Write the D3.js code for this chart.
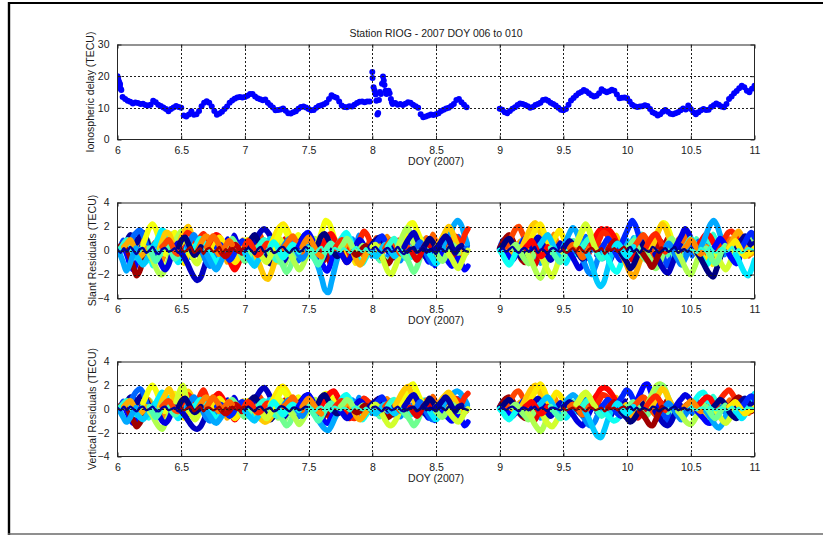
<!DOCTYPE html>
<html>
<head>
<meta charset="utf-8">
<script src="https://cdn.jsdelivr.net/npm/d3@7"></script>
<style>
  body { margin: 0; background: #fff; }
  svg { display: block; }
  text { font-family: "Liberation Sans", Arial, Helvetica, sans-serif; fill: #1a1a1a; }
</style>
</head>
<body>
<svg id="fig" width="823" height="535"></svg>
<script>
// ---------------- data ----------------
const chartTitle = "Station RIOG - 2007 DOY 006 to 010";
const xLabel = "DOY (2007)";
const xTicks = [6, 6.5, 7, 7.5, 8, 8.5, 9, 9.5, 10, 10.5, 11];
const ionoTicks = [0, 10, 20, 30];
const residTicks = [-4, -2, 0, 2, 4];

// Ionospheric delay (TECU), sampled every 0.02 DOY
const ionoStep = 0.02;
const ionoStartA = 6.00;
const ionoValuesA = [
  20.0,17.5,13.4,12.8,12.2,11.9,11.4,11.7,11.5,11.2,11.3,10.9,10.7,11.0,12.2,11.8,11.0,10.6,10.1,9.6,
  8.9,9.6,10.1,10.6,10.3,10.0,7.6,7.3,7.9,8.9,7.8,8.0,9.0,10.5,11.6,12.1,11.6,10.4,9.0,7.8,
  8.2,8.8,9.6,10.4,11.6,12.3,12.9,13.3,13.4,13.3,13.4,13.8,14.4,14.4,13.6,13.0,12.7,12.4,12.6,11.6,
  10.8,10.1,9.2,9.3,9.5,9.8,9.1,8.3,8.2,8.6,8.9,9.7,10.3,10.4,10.1,9.6,9.2,9.3,10.0,10.6,
  10.8,11.1,11.6,12.8,14.0,13.5,13.2,12.0,10.7,10.3,10.2,10.5,10.4,11.0,11.5,11.9,12.0,11.8,12.0,12.0
];
const ionoStartB = 8.16;
const ionoValuesB = [
  11.2,11.5,11.0,11.2,10.9,11.3,11.8,11.6,11.0,10.5,10.0,8.0,7.0,7.3,7.6,7.9,7.7,8.0,8.3,9.0,
  9.4,9.8,10.0,10.6,11.2,12.5,12.8,11.8,11.0,10.2
];
const ionoStartC = 9.00;
const ionoValuesC = [
  9.7,9.4,8.6,8.3,9.0,9.7,10.2,10.9,11.4,11.2,10.9,10.5,10.0,10.3,10.9,11.2,11.6,12.5,12.6,12.2,
  11.6,11.2,10.7,10.0,9.4,9.2,9.6,11.0,12.3,13.1,13.9,14.6,15.0,15.6,15.2,14.6,14.0,13.6,13.8,14.6,
  15.9,15.3,14.9,15.2,15.7,15.4,14.2,13.0,13.2,13.3,13.0,12.0,11.0,10.5,10.3,10.4,10.5,10.8,10.6,9.6,
  8.6,8.2,7.6,8.0,8.8,9.3,8.8,8.1,8.0,8.3,8.6,9.2,9.8,9.5,10.7,9.6,8.6,8.0,8.6,9.2,
  9.6,9.3,9.4,10.3,10.8,11.4,11.0,10.4,10.2,11.2,12.8,13.6,14.6,15.3,16.2,17.0,16.5,15.4,14.9,16.0,17.0
];
// Scattered epochs at the start of the series and around DOY 8.0-8.15
const ionoScatterDoy = [6.005,6.012,6.018,6.025,6.03,
  8.000,8.002,8.010,8.018,8.026,8.032,8.040,8.046,8.052,8.060,8.068,8.076,8.084,8.090,8.096,8.104,8.112,8.120,8.128,8.136,8.146,8.154];
const ionoScatterTec = [19.2,18.3,17.0,16.0,15.6,
  21.3,19.4,16.5,15.5,14.2,12.2,7.9,8.4,12.5,15.0,14.4,17.6,19.9,18.6,17.2,15.4,14.4,14.8,15.4,14.6,12.8,11.8];

// Residual arcs per satellite: [PRN, start DOY, residuals (TECU) every 0.025 DOY]
const residStep = 0.025;
const slantArcs = [
  [5,6.00,[0,0.3,0.2,-0.4,-1.2,-1.6,-1.0,-0.2,0.5,0.3]],
  [2,6.05,[0.2,0.8,1.3,1.1,0.6,1.2,1.5,1.0,0.3,-0.2,-0.6]],
  [8,6.10,[0.5,1.2,1.5,1.7,1.3,0.6,-0.3,-0.8]],
  [31,6.00,[0,0.4,0.5,0.1,-0.6,-1.4,-2.1,-1.7,-0.8,0]],
  [14,6.00,[0,0.2,0.6,0.9,0.4,-0.3,-0.6,-0.2,0.3,0.1]],
  [23,6.05,[0.3,0.6,0.9,0.4,-0.2,-0.5,-0.3,0.2]],
  [11,6.15,[-0.5,-0.9,-1.2,-0.8,-0.3,0.3,0.6,0.2]],
  [10,6.02,[-0.3,-1.0,-1.7,-1.2,-0.4,0.2]],
  [20,6.20,[0.5,1.2,1.9,2.2,1.8,1.0,0.2,-0.3,0.4,1.2,1.5,0.8]],
  [18,6.25,[-0.3,-0.8,-1.4,-1.9,-2.0,-1.5,-0.8,0.0,0.7,1.2,1.6,1.3]],
  [12,6.30,[0.6,1.2,1.7,1.5,0.8,0.2,-0.4,-1.0,-0.6,0.1]],
  [22,6.33,[0.2,0.9,1.5,1.4,0.7,0.2,0.5,1.2,1.7,2.0,1.4,0.5]],
  [4,6.30,[-0.3,-0.7,-1.3,-1.6,-1.2,-0.4,0.2,0.6,0.3]],
  [15,6.25,[0.2,-0.4,-0.9,-0.5,0.2,0.6,0.3,-0.2,-0.7,-0.4]],
  [26,6.35,[0.3,0.6,0.9,0.5,-0.1,-0.3,0.4,0.9,0.6]],
  [3,6.50,[-0.2,-0.6,-1.1,-1.7,-2.2,-2.5,-2.3,-1.6,-0.7,0.1]],
  [27,6.50,[0.5,1.1,1.5,1.3,0.8,0.6,1.1,1.4,0.9,0.2]],
  [19,6.50,[0.6,1.0,0.6,-0.2,-0.8,-1.1,-0.6,0.1,0.5]],
  [9,6.55,[0.3,0.9,1.3,0.8,0.2,-0.4,-1.0,-1.3,-0.9,-0.3,0.2]],
  [13,6.60,[0.2,0.6,1.0,0.7,0.3,-0.2,-0.6,-1.0,-0.7]],
  [24,6.62,[-0.2,0.4,0.9,1.2,1.0,0.5,0.1,-0.3]],
  [1,6.48,[0.3,0.9,1.1,0.6,0.0,-0.4,-0.1,0.3]],
  [28,6.72,[0.4,0.9,1.3,1.2,0.7,0.2,-0.5,-1.2,-1.6,-1.2,-0.4]],
  [10,6.70,[-0.3,-0.8,-1.3,-1.6,-1.2,-0.6,0.1,0.6,0.9,0.5]],
  [21,6.75,[0.2,0.7,1.1,0.8,0.3,-0.2,-0.7,-1.0,-0.6,0.0,0.5,0.9]],
  [6,6.78,[0.2,0.5,0.2,-0.4,-0.8,-0.5,0.1,0.5,0.8,0.4]],
  [16,6.85,[0.3,0.7,1.0,0.6,0.1,-0.5,-0.9,-0.6,0.0]],
  [30,6.80,[0.1,-0.3,-0.5,-0.2,0.3,0.5,0.2,-0.2]],
  [25,6.70,[0.3,0.8,1.2,0.9,0.4,0.0,0.4,0.8,0.5]],
  [3,7.05,[0.3,0.8,1.2,1.6,1.8,1.6,1.2,0.6,0.0,-0.5,-0.9,-0.5]],
  [1,7.00,[0.2,0.6,1.0,1.3,0.9,0.4,-0.3,-0.8,-1.1,-0.7,-0.2]],
  [22,7.08,[-0.3,-0.9,-1.6,-2.2,-2.4,-1.9,-1.1,-0.3,0.4]],
  [11,7.00,[-0.2,-0.6,-1.0,-1.3,-0.9,-0.4,0.2,0.7,1.0,0.6]],
  [14,7.10,[0.2,0.6,0.9,0.5,0.0,-0.5,-0.8,-0.4,0.2,0.5]],
  [19,7.12,[-0.3,-0.7,-1.0,-0.6,0.0,0.6,1.0,0.7]],
  [27,7.00,[0.4,0.8,0.5,0.0,-0.4,-0.2,0.3,0.6,0.3]],
  [21,7.20,[0.4,1.0,1.6,2.0,2.2,1.9,1.3,0.6,0.0,-0.4]],
  [20,7.22,[0.2,0.8,1.4,1.9,1.6,1.0,0.5,0.9,1.3,0.7]],
  [16,7.25,[-0.3,-0.8,-1.3,-1.8,-1.5,-0.8,-0.1,0.5,0.3]],
  [18,7.35,[-0.2,-0.7,-1.2,-1.6,-1.3,-0.7,0.0,0.6,1.0,0.6]],
  [9,7.30,[0.3,0.7,1.0,0.6,0.1,-0.4,-0.7,-0.3,0.3]],
  [2,7.40,[0.2,0.6,1.0,1.3,1.1,0.6,0.1,-0.4,-0.8,-0.5]],
  [25,7.30,[0.2,0.5,0.9,1.2,0.8,0.3,-0.1]],
  [13,7.20,[0.3,0.7,0.4,-0.2,-0.6,-0.3,0.2,0.5,0.3,-0.1]],
  [5,7.42,[0.3,0.8,1.3,1.5,1.1,0.5,-0.2,-0.8,-1.4,-1.7,-1.2,-0.4]],
  [10,7.53,[-0.3,-0.8,-1.5,-2.4,-3.3,-3.5,-2.6,-1.5,-0.5,0.3]],
  [20,7.56,[0.4,1.0,1.8,2.5,2.3,1.6,0.8,0.2,-0.2]],
  [28,7.60,[0.3,0.7,1.2,1.4,1.0,0.5,0.0,-0.6,-1.0,-0.6]],
  [1,7.55,[0.2,0.6,1.2,1.4,1.0,0.4,-0.2,-0.5,-0.2]],
  [15,7.50,[0.2,-0.3,-0.8,-1.2,-0.8,-0.2,0.3,0.6,0.3]],
  [24,7.45,[0.3,0.8,1.1,0.7,0.2,-0.3,-0.5]],
  [13,7.72,[0.3,0.8,1.2,1.5,1.1,0.4,-0.3,-0.8,-1.1,-0.7,-0.2,0.3]],
  [27,7.71,[0.2,0.6,0.9,0.5,0.0,-0.5,-0.2,0.5,1.1,1.6,1.3,0.6]],
  [4,7.75,[-0.2,-0.6,-1.0,-0.7,-0.1,0.5,0.9,0.6,0.1]],
  [23,7.78,[0.3,0.7,0.4,-0.3,-0.9,-1.2,-0.8,-0.2]],
  [17,7.75,[0.2,0.6,1.0,0.7,0.2,-0.2,0.1,0.4]],
  [31,7.85,[-0.1,-0.4,-0.2,0.2,0.4,0.1,-0.3]],
  [2,7.98,[0.2,0.6,0.9,1.1,0.8,0.3,-0.1,0.2,0.6,0.4,0.0]],
  [6,8.00,[0.1,0.5,0.9,1.2,0.8,0.3,-0.3,-0.6,-0.2,0.4,0.9,0.6]],
  [31,8.05,[-0.2,-0.6,-0.9,-1.1,-0.7,-0.2,0.2,0.5]],
  [19,8.00,[0.3,0.5,0.1,-0.5,-1.2,-1.8,-2.0,-1.5,-0.8,0.0]],
  [11,8.00,[-0.2,-0.5,-0.3,0.2,0.5,0.3,-0.2,-0.5,-0.2]],
  [26,8.10,[0.2,0.6,0.9,0.6,0.1,-0.3,-0.1,0.3]],
  [14,8.12,[0.3,0.7,1.0,0.6,0.0,-0.4,-0.7,-0.3]],
  [20,8.22,[0.4,1.0,1.6,2.2,2.3,1.8,1.2,0.6,0.2,-0.2]],
  [18,8.20,[0.3,0.9,1.5,1.9,1.4,0.6,-0.1,-0.5]],
  [16,8.25,[-0.2,-0.7,-1.3,-1.8,-1.4,-0.6,0.1,0.5,0.2]],
  [3,8.25,[0.3,0.8,1.2,1.5,1.0,0.4,-0.2,-0.6,-0.3,0.2]],
  [8,8.35,[0.3,0.7,0.3,-0.3,-0.8,-1.1,-0.6,0.0,0.5,0.9]],
  [29,8.30,[0.1,-0.4,-0.8,-0.4,0.2,0.6,0.4]],
  [1,8.40,[0.2,0.6,1.0,0.7,0.2,-0.3,0.1,0.4]],
  [12,8.45,[-0.3,-0.7,-1.1,-0.8,-0.2,0.4,0.9,1.2,0.8]],
  [10,8.57,[0.3,0.9,1.6,2.2,2.5,2.2,1.4,0.6]],
  [5,8.55,[-0.2,-0.6,-1.0,-1.3,-1.0,-0.6,-1.1,-1.6,-1.3]],
  [27,8.60,[0.3,0.8,1.2,0.9,0.6,1.3,1.8]],
  [22,8.50,[0.2,0.6,1.1,1.6,2.0,1.6,0.9,0.3,-0.2]],
  [17,8.50,[-0.2,-0.6,-0.9,-0.5,0.1,0.5,0.3,-0.2]],
  [2,8.50,[0.2,0.5,0.9,1.2,0.9,0.3,-0.2,0.2,0.4]],
  [19,8.60,[-0.3,-0.7,-1.2,-1.5,-1.0,-0.4,0.0]],
  [31,9.00,[0.2,0.7,1.1,1.3,0.9,0.3,-0.3,-0.8,-1.0,-0.6,-0.1]],
  [26,9.05,[0.3,0.8,1.3,1.8,2.0,1.5,0.9,0.3,-0.2]],
  [1,9.00,[0.1,0.4,0.8,1.0,0.6,0.2,-0.3,-0.6,-0.3,0.2,0.5]],
  [5,9.05,[-0.2,-0.5,-0.8,-0.4,0.2,0.6,1.0,0.7,0.2]],
  [13,9.00,[0.0,-0.4,-0.9,-1.2,-0.8,-0.2,0.3,0.1]],
  [17,9.10,[0.2,0.5,0.1,-0.4,-0.8,-1.1,-0.7,-0.1]],
  [22,9.18,[0.4,1.0,1.6,2.1,2.3,1.8,1.2,0.5,0.0]],
  [21,9.22,[0.3,0.9,1.5,2.0,2.2,1.6,0.9,0.4,0.8,1.3,1.7,1.2,0.5]],
  [18,9.22,[-0.3,-0.8,-1.4,-2.0,-2.3,-1.8,-1.0,-0.3,0.3]],
  [19,9.31,[-0.2,-0.7,-1.3,-1.8,-2.2,-1.7,-0.9,-0.2,0.3]],
  [3,9.25,[0.3,0.7,1.1,0.8,0.2,-0.4,-0.8,-0.4,0.2,0.6]],
  [11,9.30,[0.2,0.6,1.0,1.3,0.9,0.3,-0.3,-0.6]],
  [28,9.20,[0.2,0.5,0.8,0.4,-0.1,-0.5,-0.2,0.3]],
  [15,9.40,[0.2,-0.3,-0.7,-1.0,-0.6,0.0,0.5,0.8,0.4]],
  [10,9.50,[0.3,0.9,1.5,1.9,1.6,0.9,0.2,-0.4]],
  [4,9.55,[-0.2,-0.6,-1.1,-1.5,-1.2,-0.5,0.1,0.5,0.2]],
  [20,9.60,[0.4,1.0,1.6,2.1,1.8,1.1,0.4,-0.2]],
  [9,9.62,[-0.2,-0.6,-1.2,-1.8,-2.0,-1.5,-0.7,0.0,0.5]],
  [2,9.50,[0.2,0.5,0.8,0.5,0.1,-0.4,-0.7,-0.3,0.2,0.6,0.3]],
  [25,9.55,[0.2,0.5,0.3,-0.2,-0.6,-0.3,0.2,0.6,0.9,0.5]],
  [14,9.65,[0.3,0.7,1.0,0.6,0.1,-0.4,-0.7,-0.4]],
  [28,9.72,[0.5,1.0,1.5,1.8,1.7,1.8,1.6,1.2,0.6,0.1]],
  [27,9.76,[0.4,1.0,1.5,1.4,1.0,0.5]],
  [11,9.69,[-0.3,-0.9,-1.8,-2.6,-3.0,-2.7,-1.8,-0.8,0.0,0.4]],
  [13,9.82,[-0.2,-0.6,-1.1,-1.6,-1.8,-1.3,-0.6,0.0]],
  [6,9.80,[0.2,0.6,1.0,0.6,0.0,-0.5,-0.8,-0.4]],
  [19,9.60,[0.5,1.2,1.8,2.2,1.7,0.9,0.2]],
  [30,9.85,[0.1,0.5,0.8,0.4,-0.1,-0.4,-0.1,0.3]],
  [6,9.94,[0.3,0.8,1.4,2.0,2.5,2.1,1.3,0.5,-0.2]],
  [23,9.95,[-0.2,-0.7,-1.3,-1.9,-2.2,-1.7,-0.9,-0.2,0.3]],
  [1,9.95,[-0.2,-0.6,-1.0,-1.5,-1.2,-0.6,0.0,0.5,0.8,0.5]],
  [16,10.00,[0.2,0.5,0.8,0.4,-0.1,-0.5,-0.8,-0.4,0.1]],
  [26,10.05,[0.2,0.6,1.0,1.3,1.0,0.4,-0.2,-0.6,-0.2]],
  [12,9.90,[0.3,0.6,0.3,-0.2,-0.5,-0.2,0.3]],
  [20,10.18,[0.3,0.8,1.4,1.9,2.3,2.2,1.6,0.8,0.1,-0.4]],
  [22,10.20,[0.4,1.0,1.7,2.2,1.9,1.2,0.5,-0.1]],
  [17,10.15,[-0.2,-0.6,-1.1,-1.5,-1.2,-0.5,0.2,0.7,1.0,0.6]],
  [3,10.22,[-0.3,-0.8,-1.3,-1.7,-1.9,-1.4,-0.7,0.0,0.4]],
  [27,10.15,[0.3,0.8,1.2,1.4,1.0,0.4,-0.1]],
  [9,10.30,[0.2,0.6,0.3,-0.3,-0.8,-1.2,-0.8,-0.2,0.4]],
  [31,10.12,[-0.2,-0.6,-1.0,-1.4,-1.0,-0.4,0.1]],
  [4,10.38,[0.3,0.8,1.3,1.8,1.5,0.9,0.3,-0.2]],
  [18,10.40,[-0.2,-0.7,-1.3,-1.8,-2.0,-1.5,-0.8,-0.1,0.4]],
  [13,10.45,[0.2,0.6,1.0,0.7,0.2,-0.4,-0.9,-1.2,-0.8,-0.2]],
  [28,10.55,[0.3,0.7,1.1,1.4,1.2,0.7,0.2,-0.3]],
  [1,10.55,[-0.2,-0.6,-1.1,-1.6,-2.0,-2.2,-1.6,-0.8,0.0]],
  [24,10.45,[0.2,0.5,0.9,0.6,0.1,-0.3,-0.1,0.3]],
  [10,10.58,[0.3,0.9,1.6,2.2,2.5,2.1,1.3,0.5,-0.1]],
  [27,10.72,[0.3,0.7,1.1,1.5,1.6,1.3,0.8,0.3,-0.2]],
  [19,10.70,[-0.3,-0.8,-1.3,-1.6,-1.2,-0.5,0.2,0.6]],
  [5,10.68,[0.2,0.6,1.0,0.7,0.2,-0.4,-0.8,-1.1,-0.7]],
  [16,10.62,[0.2,-0.3,-0.8,-1.1,-0.7,0.0,0.4]],
  [23,10.80,[0.3,0.8,1.3,1.6,1.2,0.6,0.1,-0.3,0.2]],
  [12,10.85,[-0.3,-0.8,-1.4,-1.9,-2.1,-1.6,-0.8]],
  [2,10.85,[0.2,0.6,0.9,1.2,0.8,0.4,0.6]],
  [6,10.90,[0.3,0.7,1.2,1.5,1.1]],
  [21,10.80,[0.2,0.5,0.8,0.4,-0.1,-0.5,-0.3,-0.1,0.2]]
];
// Lower-amplitude, noisier arcs filling the band around zero
const slantFillArcs = [
  [7,6.02,[0.3,0.9,0.4,1.1,0.6,-0.2,0.4,-0.5,-0.1,-0.8]],
  [17,6.08,[-0.3,0.4,-0.6,0.2,0.8,0.3,1.0,0.5,-0.2,0.3]],
  [24,6.14,[0.5,-0.2,0.7,1.2,0.6,-0.3,-0.9,-0.4,-1.1,-0.5]],
  [13,6.20,[-0.4,-1.0,-0.5,-1.3,-0.7,0.2,-0.3,0.5,0.9,0.3]],
  [29,6.27,[0.2,0.7,0.3,0.9,0.4,-0.3,0.2,-0.6,-0.2,0.4]],
  [9,6.35,[0.4,1.1,0.6,1.4,0.8,0.1,0.6,-0.3,0.2,-0.6]],
  [21,6.42,[-0.5,0.2,-0.8,-0.3,-1.1,-0.6,0.1,-0.4,0.3,0.8]],
  [6,6.48,[0.3,-0.3,0.5,0.1,0.8,0.3,-0.4,0.1,-0.7,-0.2]],
  [16,6.55,[0.4,-0.2,0.6,1.0,0.5,1.2,0.6,0.0,0.4,-0.3]],
  [30,6.62,[-0.3,0.3,-0.5,0.1,0.6,0.2,0.8,0.3,-0.2,0.2]],
  [11,6.68,[0.3,0.9,0.5,1.1,0.4,-0.3,0.1,-0.7,-0.3,0.3]],
  [23,6.76,[-0.4,0.2,-0.7,-0.2,-1.0,-0.5,0.2,-0.3,0.4,0.9]],
  [4,6.84,[0.4,1.0,0.5,1.3,0.7,0.0,0.5,-0.4,0.1,-0.6]],
  [19,6.90,[-0.3,0.4,-0.5,0.3,0.9,0.4,1.1,0.5,-0.2,0.3]],
  [12,6.96,[0.3,-0.4,0.2,-0.8,-0.3,-1.1,-0.6,0.1,-0.3,0.4]],
  [26,7.04,[0.5,1.1,0.6,1.4,0.9,0.2,0.6,-0.2,0.3,-0.4]],
  [7,7.10,[-0.4,0.3,-0.6,0.1,0.7,0.2,0.9,0.4,-0.3,0.1]],
  [17,7.16,[0.4,-0.3,0.5,-0.5,-1.0,-0.4,-1.3,-0.7,0.0,-0.4]],
  [29,7.24,[0.3,0.8,0.4,1.0,0.5,-0.2,0.3,-0.4,0.1,0.5]],
  [8,7.32,[-0.4,0.2,-0.6,-0.1,-0.9,-0.4,0.3,-0.2,0.5,1.0]],
  [23,7.38,[0.4,1.0,0.5,1.2,0.6,0.0,0.5,-0.3,0.2,-0.5]],
  [12,7.46,[-0.3,0.4,-0.5,0.2,0.8,0.3,1.0,0.4,-0.2,0.3]],
  [30,7.52,[0.3,-0.3,0.4,-0.4,-0.9,-0.3,-1.2,-0.6,0.1,-0.3]],
  [18,7.60,[0.5,1.1,0.6,1.4,0.8,0.1,0.6,-0.3,0.2,-0.5]],
  [7,7.68,[-0.4,0.3,-0.6,0.1,0.7,0.3,1.0,0.4,-0.3,0.2]],
  [21,7.74,[0.3,-0.4,0.2,-0.7,-0.2,-1.1,-0.5,0.2,-0.2,0.5]],
  [9,7.82,[0.4,1.0,0.5,1.3,0.7,0.0,0.4,-0.5,0.0,-0.7]],
  [25,7.88,[-0.3,0.4,-0.5,0.2,0.8,0.4,1.1,0.5,-0.2,0.3]],
  [15,7.96,[0.3,-0.3,0.5,-0.4,-0.9,-0.4,-1.2,-0.6,0.1,-0.3]],
  [24,8.04,[0.4,1.0,0.5,1.2,0.7,0.0,0.5,-0.4,0.1,-0.5]],
  [9,8.12,[-0.4,0.2,-0.6,-0.1,-0.9,-0.4,0.3,-0.2,0.5,0.9]],
  [28,8.18,[0.3,0.9,0.4,1.1,0.6,-0.2,0.3,-0.5,-0.1,0.4]],
  [13,8.26,[-0.3,0.4,-0.6,0.2,0.8,0.3,1.0,0.4,-0.3,0.2]],
  [5,8.34,[0.4,-0.3,0.5,-0.5,-1.0,-0.4,-1.3,-0.7,0.0,-0.4]],
  [25,8.40,[0.5,1.1,0.6,1.4,0.8,0.1,0.6,-0.3,0.2,-0.5]],
  [14,8.48,[-0.4,0.3,-0.6,0.1,0.7,0.2,0.9,0.4,-0.3,0.1]],
  [30,8.54,[0.3,-0.4,0.2,-0.7,-0.2,-1.0,-0.5,0.2,-0.2]],
  [8,8.60,[0.4,1.0,0.5,1.2,0.6,0.0,0.4]],
  [7,9.00,[0.3,0.9,0.4,1.1,0.6,-0.2,0.4,-0.5,-0.1,-0.8]],
  [23,9.06,[-0.3,0.4,-0.6,0.2,0.8,0.3,1.0,0.5,-0.2,0.3]],
  [10,9.12,[0.5,-0.2,0.7,1.2,0.6,-0.3,-0.9,-0.4,-1.1,-0.5]],
  [29,9.20,[-0.4,-1.0,-0.5,-1.3,-0.7,0.2,-0.3,0.5,0.9,0.3]],
  [6,9.27,[0.2,0.7,0.3,0.9,0.4,-0.3,0.2,-0.6,-0.2,0.4]],
  [24,9.35,[0.4,1.1,0.6,1.4,0.8,0.1,0.6,-0.3,0.2,-0.6]],
  [12,9.42,[-0.5,0.2,-0.8,-0.3,-1.1,-0.6,0.1,-0.4,0.3,0.8]],
  [30,9.48,[0.3,-0.3,0.5,0.1,0.8,0.3,-0.4,0.1,-0.7,-0.2]],
  [8,9.55,[0.4,-0.2,0.6,1.0,0.5,1.2,0.6,0.0,0.4,-0.3]],
  [21,9.62,[-0.3,0.3,-0.5,0.1,0.6,0.2,0.8,0.3,-0.2,0.2]],
  [16,9.68,[0.3,0.9,0.5,1.1,0.4,-0.3,0.1,-0.7,-0.3,0.3]],
  [3,9.76,[-0.4,0.2,-0.7,-0.2,-1.0,-0.5,0.2,-0.3,0.4,0.9]],
  [22,9.84,[0.4,1.0,0.5,1.3,0.7,0.0,0.5,-0.4,0.1,-0.6]],
  [10,9.90,[-0.3,0.4,-0.5,0.3,0.9,0.4,1.1,0.5,-0.2,0.3]],
  [29,9.96,[0.3,-0.4,0.2,-0.8,-0.3,-1.1,-0.6,0.1,-0.3,0.4]],
  [14,10.04,[0.5,1.1,0.6,1.4,0.9,0.2,0.6,-0.2,0.3,-0.4]],
  [24,10.10,[-0.4,0.3,-0.6,0.1,0.7,0.2,0.9,0.4,-0.3,0.1]],
  [7,10.16,[0.4,-0.3,0.5,-0.5,-1.0,-0.4,-1.3,-0.7,0.0,-0.4]],
  [30,10.24,[0.3,0.8,0.4,1.0,0.5,-0.2,0.3,-0.4,0.1,0.5]],
  [15,10.32,[-0.4,0.2,-0.6,-0.1,-0.9,-0.4,0.3,-0.2,0.5,1.0]],
  [25,10.38,[0.4,1.0,0.5,1.2,0.6,0.0,0.5,-0.3,0.2,-0.5]],
  [8,10.46,[-0.3,0.4,-0.5,0.2,0.8,0.3,1.0,0.4,-0.2,0.3]],
  [21,10.52,[0.3,-0.3,0.4,-0.4,-0.9,-0.3,-1.2,-0.6,0.1,-0.3]],
  [14,10.60,[0.5,1.1,0.6,1.4,0.8,0.1,0.6,-0.3,0.2,-0.5]],
  [30,10.68,[-0.4,0.3,-0.6,0.1,0.7,0.3,1.0,0.4,-0.3,0.2]],
  [9,10.74,[0.3,-0.4,0.2,-0.7,-0.2,-1.1,-0.5,0.2,-0.2,0.5]],
  [25,10.78,[0.4,1.0,0.5,1.3,0.7,0.0,0.4,-0.5,0.0]],
  [17,10.82,[-0.3,0.4,-0.5,0.2,0.8,0.4,1.1,0.5]]
];
// High-elevation satellites: small residuals hugging zero
const slantLowArcs = [
  [2,6.00,[0.1,-0.2,0.2,-0.1,0.3,0.0,-0.3,0.1,0.2,-0.2,0.0,0.3,-0.1,-0.3,0.1,0.2,-0.1,0.0,0.2,-0.2,0.1]],
  [31,6.50,[0.2,-0.1,0.1,0.3,-0.2,0.0,0.2,-0.3,0.1,0.2,-0.1,0.0,0.3,-0.2,0.1,-0.1,0.2,0.0,-0.2,0.1,0.2]],
  [1,7.00,[-0.1,0.2,0.0,-0.3,0.1,0.3,-0.1,0.0,0.2,-0.2,-0.1,0.2,0.3,0.0,-0.2,0.1,0.2,-0.1,0.0,0.3,0.1]],
  [14,7.50,[0.0,0.2,-0.2,0.1,0.3,-0.1,0.0,-0.3,0.2,0.1,-0.1,0.2,0.0,-0.2,0.1,0.3,0.0,-0.1,0.2,-0.2,0.0]],
  [2,8.00,[0.1,0.3,0.0,-0.2,0.1,0.2,-0.1,0.0,0.3,-0.1,-0.3,0.0,0.2,0.1,-0.2,0.0,0.3,0.1,-0.1,0.2,0.0]],
  [1,8.25,[0.0,-0.2,0.1,0.3,-0.1,0.0,0.2,-0.2,0.1,0.0,-0.3,0.2,0.1,-0.1,0.3,0.0,-0.2,0.1,0.2,0.0,-0.1]],
  [2,9.00,[0.0,0.2,-0.1,0.1,0.3,0.0,-0.2,0.1,0.2,-0.1,0.0,0.3,-0.2,0.1,0.0,-0.3,0.1,0.2,0.0,-0.1,0.2]],
  [31,9.50,[0.1,-0.2,0.0,0.2,-0.1,0.3,0.0,-0.2,0.1,0.2,-0.1,0.0,0.2,-0.3,0.1,0.0,0.2,-0.1,0.1,0.3,0.0]],
  [1,10.00,[0.0,0.3,-0.1,0.1,-0.2,0.2,0.0,-0.1,0.3,0.1,-0.2,0.0,0.2,-0.1,0.1,0.3,-0.2,0.0,0.1,-0.1,0.2]],
  [14,10.50,[0.1,0.0,-0.2,0.2,0.1,-0.1,0.3,0.0,-0.2,0.1,0.2,-0.1,0.0,0.3,-0.1,0.1,-0.2,0.0,0.2,0.1,0.0]]
];

const verticalArcs = [
  [5,6.00,[0,0.2,0.2,-0.3,-0.9,-1.2,-0.8,-0.2,0.4,0.2]],
  [2,6.05,[0.2,0.6,1.0,0.9,0.5,1.0,1.2,0.8,0.2,-0.2,-0.5]],
  [8,6.10,[0.5,1.1,1.5,1.7,1.4,0.6,-0.2,-0.6]],
  [31,6.00,[0,0.3,0.4,0.1,-0.5,-1.0,-1.5,-1.2,-0.6,0]],
  [14,6.00,[0,0.2,0.5,0.7,0.3,-0.2,-0.5,-0.2,0.2,0.1]],
  [23,6.05,[0.2,0.5,0.7,0.3,-0.2,-0.4,-0.2,0.2]],
  [11,6.15,[-0.4,-0.7,-0.9,-0.6,-0.2,0.2,0.5,0.2]],
  [10,6.02,[-0.2,-0.7,-1.1,-0.8,-0.3,0.1]],
  [20,6.20,[0.5,1.1,1.7,2.0,1.6,0.9,0.2,-0.2,0.3,1.0,1.3,0.7]],
  [18,6.25,[-0.2,-0.6,-1.1,-1.5,-1.7,-1.2,-0.6,0.0,0.6,1.0,1.4,1.1]],
  [12,6.30,[0.5,1.0,1.4,1.2,0.6,0.2,-0.3,-0.8,-0.5,0.1]],
  [22,6.33,[0.2,0.8,1.3,1.7,1.2,0.4,0.3,0.9,1.3,1.5,1.1,0.4]],
  [4,6.30,[-0.2,-0.5,-1.0,-1.2,-0.9,-0.3,0.2,0.5,0.2]],
  [15,6.25,[0.2,-0.3,-0.7,-0.4,0.2,0.5,0.2,-0.2,-0.5,-0.3]],
  [26,6.35,[0.2,0.5,0.7,0.4,-0.1,-0.2,0.3,0.7,0.5]],
  [3,6.50,[-0.2,-0.5,-0.9,-1.3,-1.6,-1.7,-1.5,-1.0,-0.4,0.1]],
  [27,6.50,[0.4,0.9,1.2,1.0,0.7,0.6,1.2,1.6,1.0,0.2]],
  [19,6.46,[0.6,1.4,2.0,1.2,0.2,-0.6,-0.9,-0.5,0.1,0.4]],
  [9,6.55,[0.2,0.7,1.0,0.6,0.2,-0.3,-0.8,-1.0,-0.7,-0.2,0.2]],
  [13,6.60,[0.2,0.5,0.8,0.6,0.2,-0.2,-0.5,-0.8,-0.6]],
  [24,6.62,[-0.2,0.3,0.7,1.0,0.8,0.4,0.1,-0.2]],
  [1,6.48,[0.2,0.7,0.9,0.5,0.0,-0.3,-0.1,0.2]],
  [28,6.72,[0.4,0.8,1.1,1.3,1.0,0.5,0.0,-0.5,-0.9,-0.6,-0.2]],
  [10,6.70,[-0.2,-0.6,-1.0,-1.2,-0.9,-0.5,0.1,0.5,0.7,0.4]],
  [21,6.75,[0.2,0.6,0.9,0.6,0.2,-0.2,-0.6,-0.8,-0.5,0.0,0.4,0.7]],
  [6,6.78,[0.2,0.4,0.2,-0.3,-0.6,-0.4,0.1,0.4,0.6,0.3]],
  [16,6.85,[0.2,0.6,0.8,0.5,0.1,-0.4,-0.7,-0.5,0.0]],
  [30,6.80,[0.1,-0.2,-0.4,-0.2,0.2,0.4,0.2,-0.2]],
  [25,6.70,[0.2,0.6,1.0,0.7,0.3,0.0,0.3,0.6,0.4]],
  [3,7.05,[0.3,0.8,1.2,1.6,1.8,1.5,1.0,0.5,0.0,-0.4,-0.7,-0.4]],
  [1,7.00,[0.2,0.5,0.8,1.0,0.7,0.3,-0.2,-0.6,-0.9,-0.6,-0.2]],
  [22,7.08,[-0.2,-0.6,-0.9,-1.1,-1.0,-0.7,-0.3,0.1,0.4]],
  [11,7.00,[-0.2,-0.5,-0.8,-1.0,-0.7,-0.3,0.2,0.6,0.8,0.5]],
  [14,7.10,[0.2,0.5,0.7,0.4,0.0,-0.4,-0.6,-0.3,0.2,0.4]],
  [19,7.12,[-0.2,-0.5,-0.8,-0.5,0.0,0.5,0.8,0.6]],
  [27,7.00,[0.3,0.6,0.4,0.0,-0.3,-0.2,0.2,0.5,0.2]],
  [21,7.20,[0.4,0.9,1.4,1.8,1.9,1.6,1.1,0.5,0.0,-0.3]],
  [20,7.22,[0.2,0.7,1.2,1.6,1.3,0.8,0.4,0.7,1.0,0.6]],
  [16,7.25,[-0.2,-0.6,-1.0,-1.4,-1.2,-0.6,-0.1,0.4,0.2]],
  [18,7.35,[-0.2,-0.5,-0.9,-1.3,-1.0,-0.5,0.0,0.5,0.8,0.5]],
  [9,7.30,[0.2,0.6,0.8,0.5,0.1,-0.3,-0.6,-0.2,0.2]],
  [2,7.40,[0.2,0.5,0.8,1.1,1.2,0.6,0.1,-0.3,-0.6,-0.4]],
  [25,7.30,[0.2,0.4,0.7,1.0,0.6,0.2,-0.1]],
  [13,7.20,[0.2,0.6,0.3,-0.2,-0.5,-0.2,0.2,0.4,0.2,-0.1]],
  [5,7.42,[0.2,0.6,1.0,1.2,0.9,0.4,-0.2,-0.6,-1.0,-1.2,-0.9,-0.3]],
  [10,7.53,[-0.2,-0.6,-1.0,-1.4,-1.7,-1.8,-1.4,-0.8,-0.3,0.2]],
  [20,7.56,[0.3,0.7,1.1,1.3,1.2,0.9,0.5,0.1,-0.2]],
  [28,7.60,[0.3,0.7,1.1,1.4,1.5,1.1,0.6,0.0,-0.5,-0.8,-0.5]],
  [1,7.55,[0.2,0.5,1.0,1.2,0.8,0.3,-0.2,-0.4,-0.2]],
  [15,7.50,[0.2,-0.2,-0.6,-1.0,-0.7,-0.2,0.2,0.5,0.2]],
  [24,7.45,[0.2,0.6,0.9,0.6,0.2,-0.2,-0.4]],
  [13,7.72,[0.2,0.6,1.0,1.2,0.9,0.3,-0.2,-0.6,-0.9,-0.6,-0.2,0.2]],
  [27,7.71,[0.2,0.5,0.7,0.4,0.0,-0.6,-0.8,-0.3,0.4,0.9,0.7,0.3]],
  [4,7.75,[-0.2,-0.5,-0.8,-0.6,-0.1,0.4,0.7,0.5,0.1]],
  [23,7.78,[0.2,0.6,0.3,-0.2,-0.7,-0.9,-0.6,-0.2]],
  [17,7.75,[0.2,0.5,0.8,0.6,0.2,-0.2,0.1,0.3]],
  [31,7.85,[-0.1,-0.3,-0.2,0.2,0.3,0.1,-0.2]],
  [2,7.98,[0.2,0.5,0.7,0.9,0.6,0.2,-0.1,0.2,0.5,0.3,0.0]],
  [6,8.00,[0.1,0.4,0.7,1.0,0.6,0.2,-0.2,-0.5,-0.2,0.3,0.7,0.5]],
  [31,8.05,[-0.2,-0.4,-0.6,-0.7,-0.5,-0.2,0.2,0.4]],
  [19,8.00,[0.2,0.4,0.1,-0.4,-0.9,-1.3,-1.4,-1.1,-0.6,0.0]],
  [11,8.00,[-0.2,-0.4,-0.2,0.2,0.4,0.2,-0.2,-0.4,-0.2]],
  [26,8.10,[0.2,0.5,0.7,0.5,0.1,-0.2,-0.1,0.2]],
  [14,8.12,[0.2,0.6,0.8,0.5,0.0,-0.3,-0.6,-0.2]],
  [20,8.22,[0.4,0.9,1.4,1.9,2.1,1.6,1.0,0.5,0.1,-0.2]],
  [22,8.18,[0.3,0.8,1.3,1.7,1.9,1.4,0.6,-0.1,-0.4]],
  [16,8.25,[-0.2,-0.6,-1.0,-1.4,-1.1,-0.5,0.1,0.4,0.2]],
  [3,8.25,[0.2,0.6,1.0,1.2,0.8,0.3,-0.2,-0.5,-0.2,0.2]],
  [8,8.35,[0.2,0.6,0.2,-0.3,-0.7,-0.9,-0.5,0.0,0.4,0.8]],
  [29,8.30,[0.1,-0.3,-0.6,-0.3,0.2,0.5,0.3]],
  [1,8.40,[0.2,0.5,0.9,0.6,0.2,-0.2,0.1,0.3]],
  [12,8.45,[-0.2,-0.6,-0.9,-0.6,-0.2,0.3,0.7,1.0,0.6]],
  [10,8.57,[0.2,0.7,1.1,1.4,1.5,1.3,0.9,0.4]],
  [5,8.55,[-0.2,-0.5,-0.8,-1.0,-0.8,-0.5,-0.9,-1.4,-1.1]],
  [27,8.60,[0.2,0.6,0.9,0.7,0.5,1.0,1.3]],
  [22,8.50,[0.2,0.5,0.9,1.2,1.4,1.1,0.7,0.2,-0.2]],
  [17,8.50,[-0.2,-0.5,-0.7,-0.4,0.1,0.4,0.2,-0.2]],
  [2,8.50,[0.2,0.4,0.7,1.0,0.7,0.2,-0.2,0.2,0.3]],
  [19,8.60,[-0.2,-0.6,-0.9,-1.1,-0.8,-0.3,0.0]],
  [31,9.00,[0.2,0.6,0.9,1.0,0.7,0.2,-0.3,-0.6,-0.8,-0.5,-0.1]],
  [26,9.05,[0.2,0.6,1.0,1.4,1.5,1.1,0.7,0.2,-0.2]],
  [1,9.00,[0.1,0.3,0.6,0.8,0.5,0.2,-0.2,-0.5,-0.2,0.2,0.4]],
  [5,9.05,[-0.2,-0.4,-0.6,-0.3,0.2,0.5,0.8,0.6,0.2]],
  [13,9.00,[0.0,-0.3,-0.7,-0.9,-0.6,-0.2,0.2,0.1]],
  [17,9.10,[0.2,0.4,0.1,-0.3,-0.6,-0.9,-0.6,-0.1]],
  [22,9.18,[0.4,0.9,1.4,1.8,2.0,1.6,1.0,0.4,0.0]],
  [21,9.22,[0.3,0.8,1.3,1.8,2.1,1.7,1.0,0.6,1.0,1.4,1.2,0.8,0.4]],
  [18,9.22,[-0.3,-0.7,-1.2,-1.6,-1.9,-1.5,-0.8,-0.2,0.2]],
  [19,9.31,[-0.2,-0.5,-1.0,-1.3,-1.5,-1.2,-0.7,-0.2,0.2]],
  [3,9.25,[0.2,0.6,0.9,0.6,0.2,-0.3,-0.6,-0.3,0.2,0.5]],
  [11,9.30,[0.2,0.5,0.8,1.0,0.7,0.2,-0.2,-0.5]],
  [28,9.20,[0.2,0.4,0.6,0.3,-0.1,-0.4,-0.2,0.2]],
  [15,9.40,[0.2,-0.2,-0.5,-0.8,-0.5,0.0,0.4,0.6,0.3]],
  [10,9.50,[0.2,0.7,1.0,1.2,1.0,0.6,0.1,-0.3]],
  [4,9.55,[-0.2,-0.5,-0.9,-1.2,-1.4,-1.0,-0.4,0.1,0.3]],
  [20,9.60,[0.3,0.7,1.1,1.3,1.1,0.7,0.3,-0.2]],
  [9,9.62,[-0.2,-0.5,-0.9,-1.3,-1.4,-1.1,-0.5,0.0,0.4]],
  [2,9.50,[0.2,0.4,0.6,0.4,0.1,-0.3,-0.5,-0.2,0.2,0.4,0.2]],
  [25,9.55,[0.2,0.4,0.2,-0.2,-0.5,-0.2,0.2,0.5,0.7,0.4]],
  [14,9.65,[0.2,0.6,0.8,0.5,0.1,-0.3,-0.6,-0.3]],
  [28,9.72,[0.4,0.9,1.3,1.7,1.8,1.7,1.4,1.0,0.5,0.1]],
  [27,9.76,[0.3,0.8,1.2,1.1,0.8,0.4]],
  [11,9.67,[-0.2,-0.7,-1.3,-1.9,-2.3,-2.4,-1.8,-1.0,-0.3,0.3]],
  [13,9.82,[-0.2,-0.5,-0.8,-1.0,-0.9,-0.6,-0.3,0.0]],
  [6,9.80,[0.2,0.5,0.8,0.5,0.0,-0.4,-0.6,-0.3]],
  [19,9.60,[0.4,0.8,1.2,1.4,1.1,0.6,0.2]],
  [30,9.85,[0.1,0.4,0.6,0.3,-0.1,-0.3,-0.1,0.2]],
  [6,9.92,[0.3,0.8,1.2,1.6,1.4,0.9,0.4,-0.1]],
  [23,9.95,[-0.2,-0.5,-0.7,-0.6,-0.4,-0.2,0.1,0.3]],
  [1,9.95,[-0.2,-0.5,-0.8,-1.1,-0.9,-0.5,0.0,0.4,0.6,0.4]],
  [5,10.06,[0.3,0.9,1.5,2.0,2.1,1.5,0.7,0.0]],
  [16,10.00,[0.2,0.4,0.6,0.3,-0.1,-0.4,-0.6,-0.3,0.1]],
  [26,10.05,[0.2,0.5,0.8,1.0,0.8,0.3,-0.2,-0.5,-0.2]],
  [12,9.90,[0.2,0.5,0.2,-0.2,-0.4,-0.2,0.2]],
  [18,10.16,[0.4,1.0,1.6,2.0,2.1,1.8,1.2,0.6,0.0,-0.3]],
  [17,10.18,[0.3,0.8,1.4,1.9,2.0,1.5,0.8,0.2,-0.3]],
  [22,10.20,[0.3,0.8,1.3,1.7,1.5,0.9,0.4,-0.1]],
  [3,10.22,[-0.2,-0.6,-1.0,-1.3,-1.4,-1.1,-0.5,0.0,0.3]],
  [27,10.15,[0.2,0.6,0.9,1.1,0.8,0.3,-0.1]],
  [9,10.30,[0.2,0.5,0.2,-0.2,-0.6,-0.9,-0.6,-0.2,0.3]],
  [31,10.10,[-0.2,-0.5,-0.9,-1.3,-1.4,-0.9,-0.3,0.1]],
  [4,10.38,[0.2,0.6,0.9,1.2,1.0,0.6,0.2,-0.2]],
  [18,10.40,[-0.2,-0.5,-0.9,-1.2,-1.3,-1.0,-0.5,-0.1,0.3]],
  [13,10.50,[0.2,0.6,1.0,1.3,1.4,1.0,0.5,0.0,-0.4,-0.2]],
  [28,10.55,[0.2,0.5,0.8,1.0,0.9,0.5,0.2,-0.2]],
  [5,10.55,[-0.2,-0.5,-0.8,-1.1,-1.2,-1.0,-0.6,-0.2,0.1]],
  [24,10.45,[0.2,0.4,0.7,0.5,0.1,-0.2,-0.1,0.2]],
  [10,10.62,[-0.2,-0.6,-1.0,-1.4,-1.6,-1.3,-0.7,-0.1,0.3]],
  [27,10.70,[0.3,0.7,1.1,1.4,1.6,1.3,0.8,0.3,-0.2]],
  [19,10.70,[-0.2,-0.6,-1.0,-1.2,-0.9,-0.4,0.2,0.5]],
  [1,10.68,[0.2,0.5,0.8,0.6,0.2,-0.3,-0.6,-0.8,-0.5]],
  [16,10.62,[0.2,-0.2,-0.6,-0.8,-0.5,0.0,0.3]],
  [31,10.80,[0.2,0.5,0.8,1.0,0.8,0.4,0.1,-0.2,0.1]],
  [12,10.85,[-0.2,-0.5,-0.8,-0.5,0.2,0.8,1.3]],
  [2,10.85,[0.2,0.5,0.7,0.9,0.6,0.3,0.5]],
  [6,10.90,[0.2,0.5,0.9,1.1,0.8]],
  [21,10.80,[0.2,0.4,0.6,0.3,-0.1,-0.4,-0.2,-0.1,0.1]]
];
const verticalFillArcs = [
  [7,6.02,[0.2,0.7,0.3,0.8,0.4,-0.2,0.3,-0.4,-0.1,-0.6]],
  [17,6.10,[-0.2,0.3,-0.5,0.2,0.6,0.2,0.8,0.4,-0.2,0.2]],
  [24,6.16,[0.4,-0.2,0.5,0.9,0.5,-0.2,-0.7,-0.3,-0.8,-0.4]],
  [13,6.22,[-0.3,-0.8,-0.4,-1.0,-0.5,0.2,-0.2,0.4,0.7,0.2]],
  [9,6.34,[0.3,0.8,0.5,1.0,0.6,0.1,0.5,-0.2,0.2,-0.5]],
  [21,6.42,[-0.4,0.2,-0.6,-0.2,-0.8,-0.5,0.1,-0.3,0.2,0.6]],
  [16,6.55,[0.3,-0.2,0.5,0.8,0.4,0.9,0.5,0.0,0.3,-0.2]],
  [11,6.66,[0.2,0.7,0.4,0.8,0.3,-0.2,0.1,-0.5,-0.2,0.2]],
  [23,6.76,[-0.3,0.2,-0.5,-0.2,-0.8,-0.4,0.2,-0.2,0.3,0.7]],
  [4,6.84,[0.3,0.8,0.4,1.0,0.5,0.0,0.4,-0.3,0.1,-0.5]],
  [19,6.90,[-0.2,0.3,-0.4,0.2,0.7,0.3,0.8,0.4,-0.2,0.2]],
  [12,6.96,[0.2,-0.3,0.2,-0.6,-0.2,-0.8,-0.5,0.1,-0.2,0.3]],
  [26,7.04,[0.4,0.8,0.5,1.1,0.7,0.2,0.5,-0.2,0.2,-0.3]],
  [17,7.16,[0.3,-0.2,0.4,-0.4,-0.8,-0.3,-1.0,-0.5,0.0,-0.3]],
  [29,7.24,[0.2,0.6,0.3,0.8,0.4,-0.2,0.2,-0.3,0.1,0.4]],
  [8,7.32,[-0.3,0.2,-0.5,-0.1,-0.7,-0.3,0.2,-0.2,0.4,0.8]],
  [23,7.38,[0.3,0.8,0.4,0.9,0.5,0.0,0.4,-0.2,0.2,-0.4]],
  [30,7.52,[0.2,-0.2,0.3,-0.3,-0.7,-0.2,-0.9,-0.5,0.1,-0.2]],
  [18,7.60,[0.4,0.8,0.5,1.1,0.6,0.1,0.5,-0.2,0.2,-0.4]],
  [21,7.74,[0.2,-0.3,0.2,-0.5,-0.2,-0.8,-0.4,0.2,-0.2,0.4]],
  [9,7.82,[0.3,0.8,0.4,1.0,0.5,0.0,0.3,-0.4,0.0,-0.5]],
  [25,7.88,[-0.2,0.3,-0.4,0.2,0.6,0.3,0.8,0.4,-0.2,0.2]],
  [15,7.96,[0.2,-0.2,0.4,-0.3,-0.7,-0.3,-0.9,-0.5,0.1,-0.2]],
  [24,8.04,[0.3,0.8,0.4,0.9,0.5,0.0,0.4,-0.3,0.1,-0.4]],
  [9,8.12,[-0.3,0.2,-0.5,-0.1,-0.7,-0.3,0.2,-0.2,0.4,0.7]],
  [28,8.18,[0.2,0.7,0.3,0.8,0.5,-0.2,0.2,-0.4,-0.1,0.3]],
  [13,8.26,[-0.2,0.3,-0.5,0.2,0.6,0.2,0.8,0.3,-0.2,0.2]],
  [5,8.34,[0.3,-0.2,0.4,-0.4,-0.8,-0.3,-1.0,-0.5,0.0,-0.3]],
  [25,8.40,[0.4,0.8,0.5,1.1,0.6,0.1,0.5,-0.2,0.2,-0.4]],
  [14,8.48,[-0.3,0.2,-0.5,0.1,0.5,0.2,0.7,0.3,-0.2,0.1]],
  [30,8.54,[0.2,-0.3,0.2,-0.5,-0.2,-0.8,-0.4,0.2,-0.2]],
  [8,8.60,[0.3,0.8,0.4,0.9,0.5,0.0,0.3]],
  [7,9.00,[0.2,0.7,0.3,0.8,0.5,-0.2,0.3,-0.4,-0.1,-0.6]],
  [23,9.06,[-0.2,0.3,-0.5,0.2,0.6,0.2,0.8,0.4,-0.2,0.2]],
  [10,9.12,[0.4,-0.2,0.5,0.9,0.5,-0.2,-0.7,-0.3,-0.8,-0.4]],
  [29,9.20,[-0.3,-0.8,-0.4,-1.0,-0.5,0.2,-0.2,0.4,0.7,0.2]],
  [24,9.35,[0.3,0.8,0.5,1.1,0.6,0.1,0.5,-0.2,0.2,-0.5]],
  [12,9.42,[-0.4,0.2,-0.6,-0.2,-0.8,-0.5,0.1,-0.3,0.2,0.6]],
  [8,9.55,[0.3,-0.2,0.5,0.8,0.4,0.9,0.5,0.0,0.3,-0.2]],
  [16,9.68,[0.2,0.7,0.4,0.8,0.3,-0.2,0.1,-0.5,-0.2,0.2]],
  [3,9.76,[-0.3,0.2,-0.5,-0.2,-0.8,-0.4,0.2,-0.2,0.3,0.7]],
  [22,9.84,[0.3,0.8,0.4,1.0,0.5,0.0,0.4,-0.3,0.1,-0.5]],
  [29,9.96,[0.2,-0.3,0.2,-0.6,-0.2,-0.8,-0.5,0.1,-0.2,0.3]],
  [14,10.04,[0.4,0.8,0.5,1.1,0.7,0.2,0.5,-0.2,0.2,-0.3]],
  [7,10.16,[0.3,-0.2,0.4,-0.4,-0.8,-0.3,-1.0,-0.5,0.0,-0.3]],
  [30,10.24,[0.2,0.6,0.3,0.8,0.4,-0.2,0.2,-0.3,0.1,0.4]],
  [15,10.32,[-0.3,0.2,-0.5,-0.1,-0.7,-0.3,0.2,-0.2,0.4,0.8]],
  [8,10.46,[-0.2,0.3,-0.4,0.2,0.6,0.2,0.8,0.3,-0.2,0.2]],
  [21,10.52,[0.2,-0.2,0.3,-0.3,-0.7,-0.2,-0.9,-0.5,0.1,-0.2]],
  [14,10.60,[0.4,0.8,0.5,1.1,0.6,0.1,0.5,-0.2,0.2,-0.4]],
  [9,10.74,[0.2,-0.3,0.2,-0.5,-0.2,-0.8,-0.4,0.2,-0.2,0.4]],
  [25,10.78,[0.3,0.8,0.4,1.0,0.5,0.0,0.3,-0.4,0.0]],
  [17,10.82,[-0.2,0.3,-0.4,0.2,0.6,0.3,0.8,0.4]]
];
const verticalLowArcs = [
  [2,6.00,[0.1,-0.1,0.2,-0.1,0.2,0.0,-0.2,0.1,0.2,-0.1,0.0,0.2,-0.1,-0.2,0.1,0.2,-0.1,0.0,0.1,-0.2,0.1]],
  [31,6.50,[0.1,-0.1,0.1,0.2,-0.2,0.0,0.2,-0.2,0.1,0.1,-0.1,0.0,0.2,-0.2,0.1,-0.1,0.2,0.0,-0.1,0.1,0.2]],
  [1,7.00,[-0.1,0.2,0.0,-0.2,0.1,0.2,-0.1,0.0,0.1,-0.2,-0.1,0.2,0.2,0.0,-0.2,0.1,0.1,-0.1,0.0,0.2,0.1]],
  [14,7.50,[0.0,0.1,-0.2,0.1,0.2,-0.1,0.0,-0.2,0.2,0.1,-0.1,0.1,0.0,-0.2,0.1,0.2,0.0,-0.1,0.1,-0.1,0.0]],
  [2,8.00,[0.1,0.2,0.0,-0.2,0.1,0.1,-0.1,0.0,0.2,-0.1,-0.2,0.0,0.1,0.1,-0.2,0.0,0.2,0.1,-0.1,0.1,0.0]],
  [1,8.25,[0.0,-0.1,0.1,0.2,-0.1,0.0,0.2,-0.1,0.1,0.0,-0.2,0.1,0.1,-0.1,0.2,0.0,-0.2,0.1,0.1,0.0,-0.1]],
  [2,9.00,[0.0,0.1,-0.1,0.1,0.2,0.0,-0.2,0.1,0.1,-0.1,0.0,0.2,-0.1,0.1,0.0,-0.2,0.1,0.1,0.0,-0.1,0.1]],
  [31,9.50,[0.1,-0.1,0.0,0.1,-0.1,0.2,0.0,-0.2,0.1,0.1,-0.1,0.0,0.1,-0.2,0.1,0.0,0.1,-0.1,0.1,0.2,0.0]],
  [1,10.00,[0.0,0.2,-0.1,0.1,-0.1,0.1,0.0,-0.1,0.2,0.1,-0.2,0.0,0.1,-0.1,0.1,0.2,-0.1,0.0,0.1,-0.1,0.1]],
  [14,10.50,[0.1,0.0,-0.1,0.1,0.1,-0.1,0.2,0.0,-0.1,0.1,0.1,-0.1,0.0,0.2,-0.1,0.1,-0.1,0.0,0.1,0.1,0.0]]
];

// ---------------- drawing ----------------
const svg = d3.select("#fig");
const FONT = 10.5;

// figure window frame
svg.append("line").attr("x1", 8).attr("y1", 3).attr("x2", 823).attr("y2", 3)
  .attr("stroke", "#000").attr("stroke-width", 2);
svg.append("line").attr("x1", 9).attr("y1", 2).attr("x2", 9).attr("y2", 535)
  .attr("stroke", "#000").attr("stroke-width", 2.4);
svg.append("line").attr("x1", 8).attr("y1", 534).attr("x2", 823).attr("y2", 534)
  .attr("stroke", "#6a6a6a").attr("stroke-width", 1.6);

const x = d3.scaleLinear().domain([6, 11]).range([117.5, 754.5]);

// MATLAB-style jet colour map over the 32 GPS PRNs
function jet(prn) {
  const t = (prn - 1) / 31;
  const c = v => Math.round(255 * Math.max(0, Math.min(1, v)));
  return `rgb(${c(1.5 - Math.abs(4 * t - 3))},${c(1.5 - Math.abs(4 * t - 2))},${c(1.5 - Math.abs(4 * t - 1))})`;
}

function panel(top, bottom, yDomain, yTicks, yLabelText, yLabelX, clipId) {
  const y = d3.scaleLinear().domain(yDomain).range([bottom, top]);
  const g = svg.append("g");
  const [x0, x1] = x.range();

  // dotted grid
  const grid = g.append("g").attr("stroke", "#1e1e1e").attr("stroke-width", 1)
    .attr("stroke-dasharray", "2,2").attr("shape-rendering", "crispEdges");
  xTicks.slice(1, -1).forEach(t => {
    grid.append("line").attr("x1", Math.round(x(t)) + 0.5).attr("x2", Math.round(x(t)) + 0.5)
      .attr("y1", top).attr("y2", bottom);
  });
  yTicks.slice(1, -1).forEach(t => {
    grid.append("line").attr("y1", Math.round(y(t)) + 0.5).attr("y2", Math.round(y(t)) + 0.5)
      .attr("x1", x0).attr("x2", x1);
  });

  svg.append("clipPath").attr("id", clipId).append("rect")
    .attr("x", x0).attr("y", top).attr("width", x1 - x0).attr("height", bottom - top);
  const plot = svg.append("g").attr("clip-path", `url(#${clipId})`);

  // axes: labels outside, ticks inward on all four sides
  const axB = g.append("g").attr("transform", `translate(0,${bottom})`)
    .call(d3.axisBottom(x).tickValues(xTicks).tickSize(-4).tickPadding(7).tickFormat(d3.format("")));
  const axT = g.append("g").attr("transform", `translate(0,${top})`)
    .call(d3.axisTop(x).tickValues(xTicks).tickSize(-4).tickFormat(""));
  const axL = g.append("g").attr("transform", `translate(${x0},0)`)
    .call(d3.axisLeft(y).tickValues(yTicks).tickSize(-4).tickPadding(8).tickFormat(d3.format("")));
  const axR = g.append("g").attr("transform", `translate(${x1},0)`)
    .call(d3.axisRight(y).tickValues(yTicks).tickSize(-4).tickFormat(""));
  [axB, axT, axL, axR].forEach(a => {
    a.select(".domain").remove();
    a.selectAll("line").attr("stroke", "#222");
    a.selectAll("text").attr("font-size", FONT).attr("fill", "#1a1a1a")
      .attr("font-family", '"Liberation Sans", Arial, sans-serif');
  });

  g.append("text").attr("x", (x0 + x1) / 2).attr("y", bottom + 25)
    .attr("text-anchor", "middle").attr("font-size", FONT).text(xLabel);
  g.append("text").attr("transform", `translate(${yLabelX},${(top + bottom) / 2}) rotate(-90)`)
    .attr("text-anchor", "middle").attr("font-size", FONT).text(yLabelText);

  return { y, plot, g, x0, x1, top, bottom };
}

function drawBox(p) {
  p.g.append("rect").attr("x", p.x0).attr("y", p.top + 0.5)
    .attr("width", p.x1 - p.x0).attr("height", p.bottom - p.top - 0.5)
    .attr("fill", "none").attr("stroke", "#262626").attr("stroke-width", 1);
  p.g.raise();
}

// ---- panel 1: ionospheric delay ----
const p1 = panel(44.5, 139.5, [0, 30], ionoTicks, "Ionospheric delay (TECU)", 93.5, "clip1");
const ionoPoints = [];
[[ionoStartA, ionoValuesA], [ionoStartB, ionoValuesB], [ionoStartC, ionoValuesC]].forEach(([s, vals]) => {
  vals.forEach((v, i) => ionoPoints.push([s + i * ionoStep, v]));
});
ionoScatterDoy.forEach((d, i) => ionoPoints.push([d, ionoScatterTec[i]]));
p1.plot.selectAll("circle.iono").data(ionoPoints).join("circle")
  .attr("class", "iono")
  .attr("cx", d => x(d[0])).attr("cy", d => p1.y(d[1])).attr("r", 3)
  .attr("fill", "#0000ff");
svg.append("text").attr("x", (p1.x0 + p1.x1) / 2).attr("y", 37)
  .attr("text-anchor", "middle").attr("font-size", FONT).text(chartTitle);
drawBox(p1);

// ---- residual panels ----
function drawArcs(p, arcs, width) {
  arcs.forEach(([prn, start, vals]) => {
    const path = d3.line()
      .x((v, i) => x(start + i * residStep))
      .y(v => p.y(v))
      .curve(d3.curveCatmullRom.alpha(0.5))(vals);
    p.plot.append("path").attr("d", path)
      .attr("fill", "none").attr("stroke", jet(prn))
      .attr("stroke-width", width).attr("stroke-linecap", "round").attr("stroke-linejoin", "round");
  });
}

const p2 = panel(202.5, 298.5, [-4, 4], residTicks, "Slant Residuals (TECU)", 95.5, "clip2");
drawArcs(p2, slantFillArcs, 4.6);
drawArcs(p2, slantArcs, 5.6);
drawArcs(p2, slantLowArcs, 2.4);
drawBox(p2);

const p3 = panel(361.5, 456.5, [-4, 4], residTicks, "Vertical Residuals (TECU)", 95.5, "clip3");
drawArcs(p3, verticalFillArcs, 4.6);
drawArcs(p3, verticalArcs, 5.6);
drawArcs(p3, verticalLowArcs, 2.4);
drawBox(p3);
</script>
</body>
</html>
